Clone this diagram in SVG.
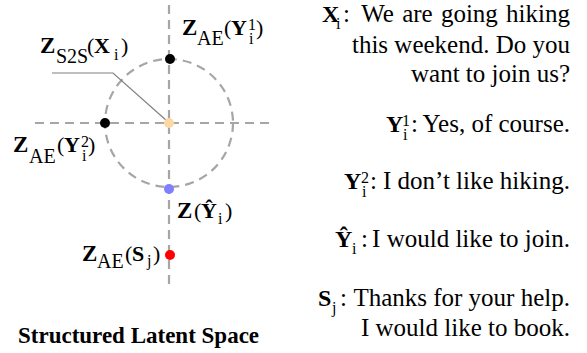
<svg xmlns="http://www.w3.org/2000/svg" width="587" height="353" viewBox="0 0 587 353">
<style>
text{font-family:"Liberation Serif","Times New Roman",serif;fill:#000}
.z{font-weight:bold;font-size:23px}
.b{font-weight:bold;font-size:22px}
.r{font-size:22px}
.s{font-size:20px}
.m{font-size:16px}
.t{font-size:25px}
.tb{font-size:24px;font-weight:bold}
.e{text-anchor:end}
.d{fill:none;stroke:#A6A6A6;stroke-width:2.2;stroke-dasharray:9 6}
</style>
<rect width="587" height="353" fill="#fff"/>
<g id="axes">
<line class="d" x1="169" y1="5" x2="169" y2="285"/>
<line class="d" x1="35" y1="123" x2="273" y2="123"/>
<circle class="d" cx="169" cy="123" r="64"/>
</g>
<g id="connectors">
<polyline points="52,73 113,73 167,121" fill="none" stroke="#808080" stroke-width="1.2"/>
</g>
<g id="node-zs2s">
<circle cx="169" cy="123" r="5" fill="#FCD9A4"/>
<text class="z" x="40" y="53">Z</text><text class="s" x="56" y="63">S2S</text><text class="r" x="87" y="53">(</text><text class="b" x="94" y="53">X</text><text class="m" x="114" y="60">i</text><text class="r" x="121" y="53">)</text>
</g>
<g id="node-zae-y1">
<circle cx="170" cy="59" r="5" fill="#000"/>
<text class="z" x="182" y="35">Z</text><text class="s" x="197" y="45">AE</text><text class="r" x="224" y="35">(</text><text class="b" x="231" y="35">Y</text><text class="m" x="248" y="30">1</text><text class="m" x="249" y="44">i</text><text class="r" x="256" y="35">)</text>
</g>
<g id="node-zae-y2">
<circle cx="105" cy="123" r="5" fill="#000"/>
<text class="z" x="13" y="152">Z</text><text class="s" x="29" y="163">AE</text><text class="r" x="57" y="152">(</text><text class="b" x="64" y="152">Y</text><text class="m" x="81" y="147">2</text><text class="m" x="82" y="161">i</text><text class="r" x="88" y="152">)</text>
</g>
<g id="node-zyhat">
<circle cx="169" cy="189" r="5" fill="#7F7FFF"/>
<text class="z" x="177" y="218">Z</text><text class="r" x="194" y="218">(</text><text class="b" x="201" y="218">Ŷ</text><text class="m" x="218" y="224">i</text><text class="r" x="225" y="218">)</text>
</g>
<g id="node-zae-s">
<circle cx="170" cy="255" r="5" fill="#FF0000"/>
<text class="z" x="82" y="261">Z</text><text class="s" x="97" y="268">AE</text><text class="r" x="125" y="261">(</text><text class="b" x="132" y="261">S</text><text class="m" x="147" y="266">j</text><text class="r" x="153" y="261">)</text>
</g>
<text x="18" y="343" style="font-size:23px;font-weight:bold">Structured Latent Space</text>
<g id="legend">
<text class="tb" x="322" y="22">X</text><text class="m" x="336" y="29">i</text><text class="t" x="343" y="22">:</text><text class="t e" x="570" y="22" style="word-spacing:2px">We are going hiking</text>
<text class="t e" x="570" y="53">this weekend. Do you</text>
<text class="t e" x="570" y="82">want to join us?</text>
<text class="tb" x="386" y="132">Y</text><text class="m" x="402" y="126">1</text><text class="m" x="403" y="140">i</text><text class="t" x="411" y="132">:</text><text class="t e" x="570" y="132">Yes, of course.</text>
<text class="tb" x="344" y="189">Y</text><text class="m" x="361" y="183">2</text><text class="m" x="362" y="197">i</text><text class="t" x="370" y="189">:</text><text class="t e" x="570" y="189">I don’t like hiking.</text>
<text class="tb" x="335" y="247">Ŷ</text><text class="m" x="352" y="254">i</text><text class="t" x="361" y="247">:</text><text class="t e" x="570" y="247">I would like to join.</text>
<text class="tb" x="318" y="306">S</text><text class="m" x="332" y="313">j</text><text class="t" x="340" y="306">:</text><text class="t e" x="570" y="306">Thanks for your help.</text>
<text class="t e" x="570" y="336">I would like to book.</text>
</g>
</svg>
